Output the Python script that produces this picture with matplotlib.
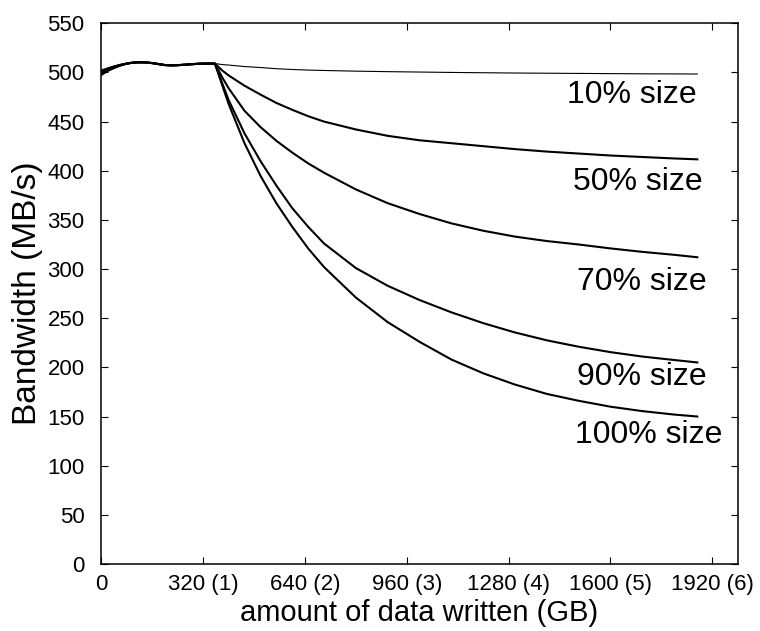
import matplotlib
matplotlib.use('Agg')
import matplotlib.pyplot as plt

plt.rcParams['font.family'] = ['Liberation Sans', 'DejaVu Sans']

filename = 'out.png'

# amount of data written (GB)
data_written = [0, 20, 40, 60, 80, 100, 120, 140, 160, 180, 200, 220, 240, 260, 280, 300, 320, 340, 357,
                380, 400, 450, 500, 550, 600, 650, 700, 800, 900, 1000, 1100, 1200, 1300, 1400, 1500,
                1600, 1700, 1800, 1873]

# bandwidth (MB/s) for each partition size
bw_10 = [502.5, 504.5, 506.5, 508.0, 509.0, 510.0, 510.3, 510.2, 509.5, 508.5, 507.5, 507.2, 507.4, 507.8,
         508.3, 508.7, 509.0, 509.0, 509.0,
         508.0, 507.5, 506.0, 505.0, 503.8, 503.0, 502.4, 502.0, 501.3, 500.8, 500.4, 500.0, 499.7, 499.4,
         499.2, 499.0, 498.8, 498.6, 498.5, 498.4]
bw_50 = [501.0, 504.0, 506.0, 507.8, 509.0, 510.0, 510.3, 510.2, 509.5, 508.5, 507.5, 507.2, 507.4, 507.8,
         508.3, 508.7, 509.0, 509.0, 509.0,
         502.0, 497.0, 486.5, 477.5, 469.0, 462.0, 455.5, 450.0, 442.0, 435.5, 431.0, 428.0, 425.0, 422.0,
         419.5, 417.5, 415.5, 414.0, 412.5, 411.6]
bw_70 = [500.0, 503.0, 505.5, 507.5, 509.0, 510.0, 510.3, 510.2, 509.5, 508.5, 507.5, 507.2, 507.4, 507.8,
         508.3, 508.7, 509.0, 509.0, 509.0,
         495.0, 484.0, 461.0, 444.5, 430.5, 418.5, 407.5, 398.0, 381.0, 367.0, 356.0, 346.5, 339.0, 333.0,
         328.5, 325.0, 321.0, 317.5, 314.5, 312.0]
bw_90 = [498.8, 502.2, 505.0, 507.2, 509.0, 510.0, 510.3, 510.2, 509.5, 508.5, 507.5, 507.2, 507.4, 507.8,
         508.3, 508.7, 509.0, 509.0, 509.0,
         489.0, 472.0, 438.0, 410.0, 385.0, 362.0, 343.0, 326.0, 301.0, 283.0, 268.5, 256.0, 245.0, 235.5,
         227.5, 221.0, 215.5, 211.0, 207.5, 205.0]
bw_100 = [497.5, 501.5, 504.5, 507.0, 509.0, 510.0, 510.3, 510.2, 509.5, 508.5, 507.5, 507.2, 507.4, 507.8,
          508.3, 508.7, 509.0, 509.0, 509.0,
          487.0, 468.0, 428.0, 395.0, 367.0, 343.0, 321.0, 302.0, 271.0, 246.0, 226.0, 208.0, 194.0, 182.5,
          173.0, 166.0, 160.0, 155.5, 152.0, 150.0]

series = [bw_10, bw_50, bw_70, bw_90, bw_100]
series_labels = ['10% size', '50% size', '70% size', '90% size', '100% size']
series_widths = [0.8, 1.5, 1.5, 1.5, 1.5]

# label anchors (x, baseline y) in data units
label_x = [1668, 1685, 1700, 1700, 1720]
label_y = [469, 380, 279, 182, 123]

x_ticks = [0, 320, 640, 960, 1280, 1600, 1920]
x_tick_labels = ['0', '320 (1)', '640 (2)', '960 (3)', '1280 (4)', '1600 (5)', '1920 (6)']
y_ticks = list(range(0, 551, 50))

fig = plt.figure(figsize=(7.6, 6.31), dpi=100)
ax = fig.add_axes([0.1333, 0.1062, 0.8374, 0.8569])

for values, width in zip(series, series_widths):
    ax.plot(data_written, values, color='black', linewidth=width, solid_joinstyle='round')

for text, tx, ty in zip(series_labels, label_x, label_y):
    ax.text(tx, ty, text, ha='center', va='baseline', fontsize=23)

ax.set_xlim(0, 2000)
ax.set_ylim(0, 550)
ax.set_xticks(x_ticks)
ax.set_xticklabels(x_tick_labels, fontsize=16)
ax.set_yticks(y_ticks)
ax.tick_params(axis='y', labelsize=16, pad=12)
ax.tick_params(axis='x', pad=7)
ax.tick_params(direction='in', length=5, width=0.8, top=True, right=True)
for spine in ax.spines.values():
    spine.set_linewidth(1.1)

ax.set_xlabel('amount of data written (GB)', fontsize=21, labelpad=3)
ax.set_ylabel('Bandwidth (MB/s)', fontsize=24, labelpad=3)

plt.savefig(filename)
